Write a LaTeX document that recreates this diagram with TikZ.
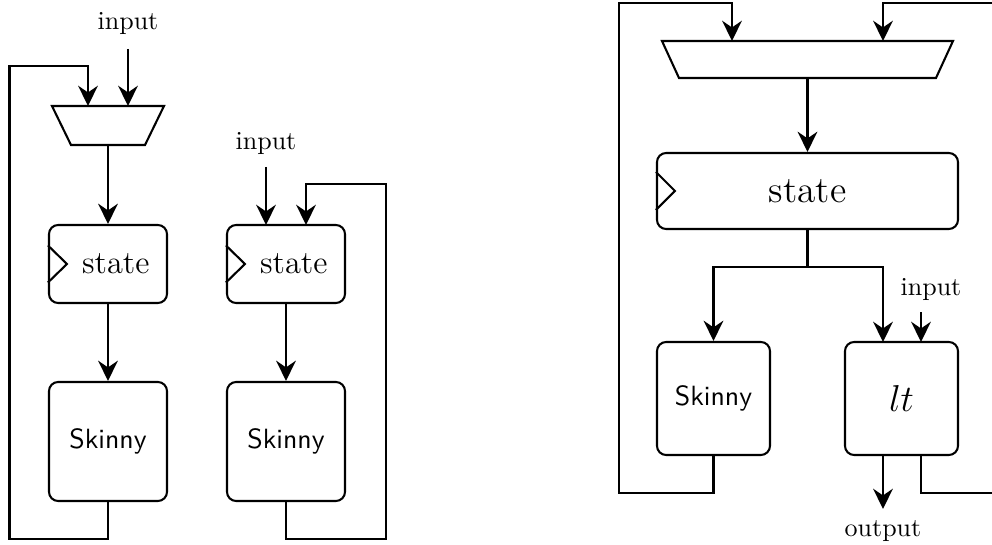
\documentclass[tikz,border=0pt]{standalone}
\usetikzlibrary{arrows.meta,calc}
\begin{document}
\begin{tikzpicture}[x=0.3846pt,y=-0.3846pt,
  line width=0.8pt,
  arr/.style={-{Stealth[length=7.8pt,width=7.6pt,inset=2.6pt]}},
  blk/.style={draw,rounded corners=3.5pt,inner sep=0pt},
  muxbox/.style={rectangle,inner sep=0pt,outer sep=0pt},
  lbl/.style={inner sep=0pt,outer sep=4.6pt},
  clk/.style={line join=miter},
  sk/.style={font=\fontsize{10.7}{13}\selectfont\sffamily},
  st/.style={font=\fontsize{12.5}{15}\selectfont}]
\useasboundingbox (0,0) rectangle (992,545);

% ---------- left diagram ----------
\node[muxbox,minimum width=43.08pt,minimum height=15pt] (m1) at (108,125.5) {};
\draw[line join=miter] (m1.north west) -- (m1.north east) -- ($(m1.south east)+(-19,0)$) -- ($(m1.south west)+(19,0)$) -- cycle;
\node[blk,st,minimum width=45.38pt,minimum height=30pt] (s1) at (108,264) {\hspace{6pt}state};
\node[blk,sk,minimum width=45.38pt,minimum height=45.77pt] (k1) at (108,441.5) {Skinny};
\node[lbl,outer sep=5.6pt,anchor=south] (i1) at (128,49) {input};
\coordinate (m1a) at (88,106);
\coordinate (m1b) at (128,106);
\coordinate (l1bot) at (9.5,539);
\coordinate (l1top) at (9.5,66);
\draw[arr] (i1.south) -- (m1b);
\draw[arr] (m1.south) -- (s1.north);
\draw[arr] (s1.south) -- (k1.north);
\draw[arr] (k1.south) |- (l1bot) -- (l1top) -| (m1a);
\draw[clk] ($(s1.west)+(0,-18.5)$) -- ++(19,18.5) -- ++(-19,18.5);

% ---------- middle diagram ----------
\node[blk,st,minimum width=45.38pt,minimum height=30pt] (s2) at (286,264) {\hspace{6pt}state};
\node[blk,sk,minimum width=45.38pt,minimum height=45.77pt] (k2) at (286,441.5) {Skinny};
\node[lbl,anchor=south] (i2) at (266,167) {input};
\coordinate (s2a) at (266,225);
\coordinate (s2b) at (306,225);
\coordinate (l2bot) at (386,539);
\coordinate (l2top) at (386,184);
\draw[arr] (i2.south) -- (s2a);
\draw[arr] (s2.south) -- (k2.north);
\draw[arr] (k2.south) |- (l2bot) -- (l2top) -| (s2b);
\draw[clk] ($(s2.west)+(0,-18.5)$) -- ++(19,18.5) -- ++(-19,18.5);

% ---------- right diagram ----------
\node[muxbox,minimum width=111.92pt,minimum height=14.23pt] (m3) at (807.5,59.5) {};
\draw[line join=miter] (m3.north west) -- (m3.north east) -- ($(m3.south east)+(-17,0)$) -- ($(m3.south west)+(17,0)$) -- cycle;
\node[blk,minimum width=115.76pt,minimum height=29.23pt] (s3) at (807.5,191) {\Large state};
\node[blk,sk,minimum width=43.46pt,minimum height=43.46pt] (k3) at (713.5,398.5) {Skinny};
\node[blk,minimum width=43.46pt,minimum height=43.46pt] (lt) at (901.5,398.5) {\Large $lt$};
\node[lbl] (i3) at (931,289) {input};
\coordinate (m3a) at (732,41);
\coordinate (m3b) at (883,41);
\coordinate (split) at (807.5,267);
\coordinate (lta) at (883,342);
\coordinate (ltb) at (921,342);
\coordinate (ltc) at (883,455);
\coordinate (ltd) at (921,455);
\coordinate (outend) at (883,509);
\node[lbl,anchor=north] (o3) at (outend) {output};
\coordinate (l3bot) at (619,493);
\coordinate (l3top) at (619,3);
\coordinate (r3bot) at (996,493);
\coordinate (r3top) at (996,3);
\draw[arr] (m3.south) -- (s3.north);
\draw (s3.south) -- (split);
\draw[arr] (split) -| (k3.north);
\draw[arr] (split) -| (lta);
\draw[arr] (i3.south -| ltb) -- (ltb);
\draw[arr] (ltc) -- (outend);
\draw[arr] (k3.south) |- (l3bot) -- (l3top) -| (m3a);
\draw[arr] (ltd) |- (r3bot) -- (r3top) -| (m3b);
\draw[clk] ($(s3.west)+(0,-19)$) -- ++(19,19) -- ++(-19,19);
\end{tikzpicture}
\end{document}
